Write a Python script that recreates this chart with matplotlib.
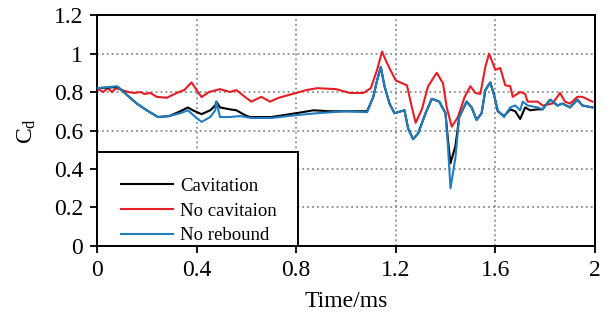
import matplotlib
matplotlib.use("Agg")
import matplotlib.pyplot as plt
from matplotlib.patches import Rectangle
from matplotlib.lines import Line2D

plt.rcParams['font.family'] = ['Liberation Serif', 'DejaVu Serif']
plt.rcParams['mathtext.fontset'] = 'custom'
plt.rcParams['mathtext.rm'] = 'Liberation Serif'
plt.rcParams['mathtext.it'] = 'Liberation Serif:italic'

# drag coefficient histories
t_cav = [0, .085, .12, .16, .20, .245, .29, .335, .365, .385, .42, .455, .475, .48, .494, .534,
         .56, .594, .614, .70, .80, .87, .936, 1.03, 1.085, 1.11, 1.125, 1.14, 1.155, 1.175, 1.195,
         1.235, 1.25, 1.27, 1.29, 1.32, 1.345, 1.375, 1.40, 1.41, 1.42, 1.44, 1.455, 1.485, 1.505,
         1.525, 1.545, 1.56, 1.58, 1.595, 1.61, 1.635, 1.66, 1.68, 1.70, 1.72, 1.74, 1.77, 1.79,
         1.82, 1.85, 1.87, 1.90, 1.93, 1.95, 1.99]
cd_cav = [.82, .826, .785, .74, .705, .67, .675, .70, .72, .705, .685, .705, .73, .75, .72, .71,
          .705, .68, .67, .67, .69, .705, .70, .70, .70, .775, .86, .93, .83, .74, .69,
          .705, .61, .555, .585, .69, .765, .75, .69, .55, .43, .52, .67, .75, .72,
          .655, .69, .81, .85, .785, .70, .675, .71, .70, .66, .72, .705, .71, .71,
          .76, .73, .74, .72, .76, .73, .72]

t_nocav = [0, .024, .044, .06, .076, .10, .125, .15, .175, .19, .215, .24, .28, .32, .35, .38,
           .40, .42, .45, .494, .534, .56, .594, .62, .66, .695, .73, .80, .84, .885, .96, 1.016,
           1.07, 1.10, 1.125, 1.145, 1.165, 1.20, 1.245, 1.265, 1.28, 1.305, 1.33, 1.365, 1.39,
           1.405, 1.425, 1.45, 1.477, 1.50, 1.52, 1.54, 1.56, 1.575, 1.59, 1.60, 1.62, 1.64, 1.66,
           1.67, 1.70, 1.72, 1.73, 1.77, 1.79, 1.83, 1.86, 1.88, 1.90, 1.93, 1.95, 1.99]
cd_nocav = [.82, .80, .82, .80, .82, .81, .80, .795, .80, .79, .795, .775, .77, .795, .81, .85,
            .81, .774, .80, .815, .80, .81, .775, .75, .775, .75, .77, .795, .81, .82, .815, .795,
            .795, .82, .915, 1.01, .95, .86, .835, .72, .64, .71, .83, .90, .845,
            .72, .62, .67, .775, .83, .795, .79, .93, 1.00, .95, .915, .925, .835, .83,
            .775, .80, .79, .75, .75, .73, .74, .795, .75, .74, .775, .775, .75]

t_noreb = [0, .08, .12, .16, .20, .245, .29, .335, .365, .40, .42, .455, .475, .48, .494, .534,
           .574, .62, .70, .80, .885, 1.0, 1.085, 1.11, 1.125, 1.14, 1.155, 1.175, 1.195, 1.235,
           1.25, 1.27, 1.29, 1.32, 1.345, 1.375, 1.40, 1.41, 1.42, 1.44, 1.455, 1.485, 1.505,
           1.525, 1.545, 1.56, 1.58, 1.595, 1.61, 1.635, 1.66, 1.68, 1.70, 1.71, 1.73, 1.77, 1.79,
           1.82, 1.85, 1.87, 1.90, 1.93, 1.95, 1.99]
cd_noreb = [.82, .83, .785, .74, .705, .67, .675, .69, .705, .665, .645, .67, .705, .75, .67, .67,
            .675, .665, .665, .68, .69, .70, .695, .775, .86, .93, .83, .74, .69, .705,
            .61, .555, .585, .69, .765, .75, .69, .515, .30, .46, .67, .75, .72,
            .655, .69, .81, .85, .785, .705, .67, .72, .73, .705, .75, .73, .72, .71,
            .76, .73, .74, .72, .76, .73, .72]

labels = ['Cavitation', 'No cavitaion', 'No rebound']
colors = ['#000000', '#e51d25', '#1f7dc0']

fig = plt.figure(figsize=(6.12, 3.34), dpi=100)
ax = fig.add_axes([0.1585, 0.2635, 0.8135, 0.6915])

ax.plot(t_nocav, cd_nocav, color=colors[1], lw=1.5, zorder=3)
ax.plot(t_cav, cd_cav, color=colors[0], lw=1.5, zorder=4)
ax.plot(t_noreb, cd_noreb, color=colors[2], lw=1.5, zorder=5)

ax.set_xlim(0, 2)
ax.set_ylim(0, 1.2)
ax.set_xticks([0, 0.4, 0.8, 1.2, 1.6, 2])
ax.set_xticklabels(['0', '0.4', '0.8', '1.2', '1.6', '2'])
ax.set_yticks([0, 0.2, 0.4, 0.6, 0.8, 1, 1.2])
ax.set_yticklabels(['0', '0.2', '0.4', '0.6', '0.8', '1', '1.2'])
ax.grid(True, color='#7a7a7a', ls=(0, (1.2, 2.0)), lw=1.1)
ax.tick_params(direction='out', length=5, width=1.3, labelsize=17, pad=5)
for s in ax.spines.values():
    s.set_linewidth(1.4)

ax.set_xlabel('Time/ms', fontsize=17, labelpad=7)
ax.set_ylabel(r'C$_\mathrm{d}$', fontsize=17, labelpad=11)

# legend box in the lower left corner
ax.add_patch(Rectangle((0, 0), 0.404, 0.405, transform=ax.transAxes, facecolor='white',
                       edgecolor='black', lw=1.4, zorder=6, clip_on=False))
handles = [Line2D([], [], color=c, lw=1.5) for c in colors]
ax.legend(handles, labels, loc='upper left', bbox_to_anchor=(0.018, 0.36), frameon=False,
          fontsize=13.5, handlelength=2.8, handletextpad=0.35, labelspacing=0.4,
          borderpad=0.3).set_zorder(7)

fig.savefig('out.png', dpi=100)
